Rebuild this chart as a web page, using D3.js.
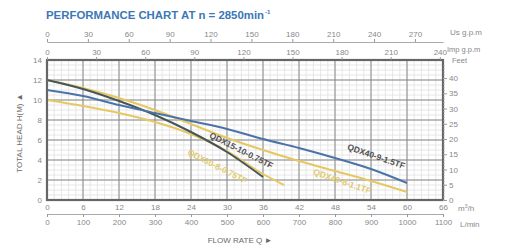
<!DOCTYPE html>
<html><head><meta charset="utf-8">
<script src="https://cdn.jsdelivr.net/npm/d3@7"></script>
<style>
body{margin:0;background:#fff;}
svg{display:block;font-family:"Liberation Sans",Arial,sans-serif;}
</style></head>
<body><svg id="c" width="506" height="248"></svg>
<script>
// ---- data ----
const flowTicks = [0,6,12,18,24,30,36,42,48,54,60,66];
const lminTicks = [0,100,200,300,400,500,600,700,800,900,1000,1100];
const usTicks = [0,30,60,90,120,150,180,210,240,270];
const impTicks = [0,30,60,90,120,150,180,210,240];
const headTicks = [0,2,4,6,8,10,12,14];
const feetTicks = [0,5,10,15,20,25,30,35,40];

const qdx15Q = [0,6,12,18,24,30,36];
const qdx15H = [12,11.1,9.9,8.5,6.8,4.8,2.3];
const qdx409Q = [0,6,12,18,24,30,36,42,48,54,60];
const qdx409H = [11,10.4,9.5,8.7,7.9,7.1,6.1,5.2,4.2,3.1,1.7];
const qdx408Q = [0,6,12,18,24,30,36,42,48,54,60];
const qdx408H = [12,11.2,10.2,9.0,7.6,6.2,5.0,3.9,2.9,1.9,0.8];
const qdx30Q = [0,6,12,18,24,30,36,39.5];
const qdx30H = [10,9.4,8.7,7.8,6.6,4.9,2.6,1.5];

const seriesNames = ["QDX15-10-0.75TF","QDX40-9-1.5TF","QDX40-8-1.1TF","QDX30-8-0.75TF"];

// ---- layout ----
const svg = d3.select("#c");
const L=47,R=443,T=60,B=200;
const x = d3.scaleLinear().domain([0,66]).range([L,R]);
const y = d3.scaleLinear().domain([0,14]).range([B,T]);
const xUS = d3.scaleLinear().domain([0,66*4.403]).range([L,R]);
const xImp = d3.scaleLinear().domain([0,66*3.666]).range([L,R]);
const xL = d3.scaleLinear().domain([0,1100]).range([L,R]);
const yFt = d3.scaleLinear().domain([0,14/0.3048]).range([B,T]);
const fmt = d3.format("d");

const labCol="#888";

// title
const title = svg.append("text").attr("x",46).attr("y",19)
  .attr("fill","#3a78b6").attr("font-weight","bold").attr("font-size",11.4)
  .text("PERFORMANCE CHART AT n = 2850min");
title.append("tspan").attr("font-size",6).attr("dy",-5).attr("dx",1).text("-1");

// grid
const g = svg.append("g");
const minorX = d3.range(0,66.001,1.2);
const minorY = d3.range(0,14.001,0.5);
g.selectAll(".mx").data(minorX).enter().append("line")
  .attr("x1",d=>x(d)).attr("x2",d=>x(d)).attr("y1",T).attr("y2",B)
  .attr("stroke","#e0e0e0").attr("stroke-width",0.8);
g.selectAll(".my").data(minorY).enter().append("line")
  .attr("y1",d=>y(d)).attr("y2",d=>y(d)).attr("x1",L).attr("x2",R)
  .attr("stroke","#e0e0e0").attr("stroke-width",0.8);
g.selectAll(".Mx").data(flowTicks).enter().append("line")
  .attr("x1",d=>x(d)).attr("x2",d=>x(d)).attr("y1",T).attr("y2",B)
  .attr("stroke","#888").attr("stroke-width",1);
g.selectAll(".My").data(headTicks).enter().append("line")
  .attr("y1",d=>y(d)).attr("y2",d=>y(d)).attr("x1",L).attr("x2",R)
  .attr("stroke","#888").attr("stroke-width",1);

// curves
const line = d3.line().x(d=>x(d[0])).y(d=>y(d[1])).curve(d3.curveMonotoneX);
const curves = [
  {q:qdx408Q,h:qdx408H,c:"#e6c862",w:2},
  {q:qdx30Q,h:qdx30H,c:"#e6c862",w:2},
  {q:qdx15Q,h:qdx15H,c:"#46555a",w:2},
  {q:qdx409Q,h:qdx409H,c:"#4a74a8",w:2}
];
curves.forEach(s=>{
  svg.append("path").datum(s.q.map((q,i)=>[q,s.h[i]]))
    .attr("d",line).attr("fill","none").attr("stroke",s.c).attr("stroke-width",s.w);
});

// frame
svg.append("rect").attr("x",L).attr("y",T).attr("width",R-L).attr("height",B-T)
  .attr("fill","none").attr("stroke","#666").attr("stroke-width",2.2);

function styleAxis(sel,fs){
  sel.selectAll("text").attr("fill",labCol).attr("font-size",fs||8).attr("font-family","Liberation Sans, Arial, sans-serif");
  sel.selectAll("line").attr("stroke","#999");
  sel.select(".domain").attr("stroke","#aaa");
}

// top axes
const aUS = svg.append("g").attr("transform",`translate(0,42)`)
  .call(d3.axisTop(xUS).tickValues(usTicks).tickFormat(fmt).tickSize(3).tickSizeOuter(0).tickPadding(2));
styleAxis(aUS);
const aImp = svg.append("g").attr("transform",`translate(0,${T})`)
  .call(d3.axisTop(xImp).tickValues(impTicks).tickFormat(fmt).tickSize(3).tickSizeOuter(0).tickPadding(2));
styleAxis(aImp); aImp.select(".domain").remove();

// bottom axes
const aQ = svg.append("g").attr("transform",`translate(0,${B})`)
  .call(d3.axisBottom(x).tickValues(flowTicks).tickFormat(fmt).tickSize(0).tickPadding(4));
styleAxis(aQ); aQ.select(".domain").remove();
const aL = svg.append("g").attr("transform",`translate(0,214)`)
  .call(d3.axisBottom(xL).tickValues(lminTicks).tickFormat(fmt).tickSize(3).tickSizeOuter(0).tickPadding(2));
styleAxis(aL);

// left axis
const aH = svg.append("g").attr("transform",`translate(${L},0)`)
  .call(d3.axisLeft(y).tickValues(headTicks).tickFormat(fmt).tickSize(0).tickPadding(5));
styleAxis(aH); aH.select(".domain").remove();

// right axis (feet)
const aF = svg.append("g").attr("transform",`translate(${R},0)`)
  .call(d3.axisRight(yFt).tickValues(feetTicks).tickFormat(fmt).tickSize(4).tickSizeOuter(0).tickPadding(2));
styleAxis(aF); aF.select(".domain").remove();
svg.append("g").selectAll("line").data(d3.range(0,45,1)).enter().append("line")
  .attr("x1",R).attr("x2",R+2).attr("y1",d=>yFt(d)).attr("y2",d=>yFt(d))
  .attr("stroke","#aaa").attr("stroke-width",0.7);

// unit labels
const unit=(t,xx,yy,fs)=>svg.append("text").attr("x",xx).attr("y",yy).attr("fill",labCol).attr("font-size",fs||8).text(t);
unit("Us g.p.m",450,35);
unit("Imp g.p.m",447,52,7.5);
unit("Feet",452,63,7.5);
const m3 = unit("m",458,211); m3.append("tspan").attr("font-size",5).attr("dy",-3).text("3"); m3.append("tspan").attr("dy",3).text("/h");
unit("L/min",460,227);

// axis titles
svg.append("text").attr("x",240).attr("y",243).attr("text-anchor","middle")
  .attr("fill","#6a6a6a").attr("font-size",8).text("FLOW RATE Q ►");
svg.append("text").attr("transform","translate(22,133) rotate(-90)").attr("text-anchor","middle")
  .attr("fill","#6a6a6a").attr("font-size",8).text("TOTAL HEAD H(M) ▲");

// curve labels
const lab=(t,cx,cy,a,c)=>svg.append("text").attr("transform",`translate(${cx},${cy}) rotate(${a})`)
  .attr("text-anchor","middle").attr("dominant-baseline","middle").attr("fill",c)
  .attr("font-size",8.5).attr("font-weight","bold").text(t);
lab(seriesNames[0],241,151,27,"#505050");
lab(seriesNames[1],376,157,19,"#505050");
lab(seriesNames[3],217,167,27,"#e2c96e");
lab(seriesNames[2],342,182,19,"#e2c96e");
</script></body></html>
